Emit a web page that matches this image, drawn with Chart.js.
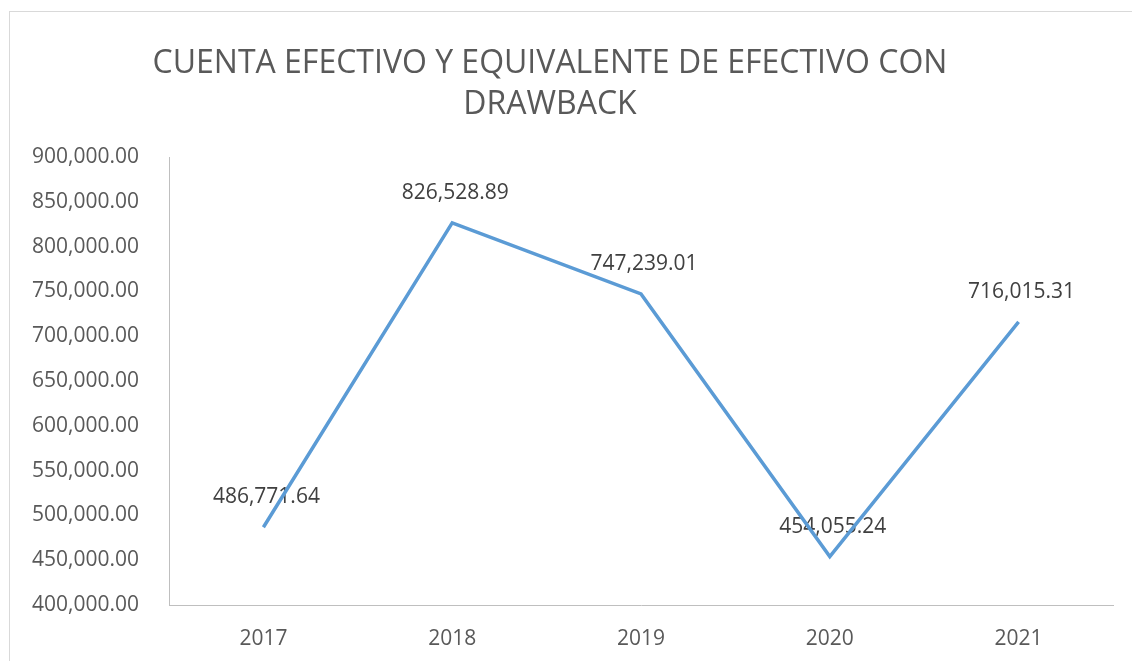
<!DOCTYPE html>
<html>
<head>
<meta charset="utf-8">
<script src="https://cdn.jsdelivr.net/npm/chart.js@4.4.1/dist/chart.umd.min.js"></script>
<style>
  html, body { margin: 0; padding: 0; background: #fff; overflow: hidden; }
  #frame { position: absolute; left: 9px; top: 11px; width: 1200px; height: 700px; border: 1px solid #d9d9d9; }
  #chart { position: absolute; left: 0; top: 0; }
</style>
</head>
<body>
<div id="frame"></div>
<canvas id="chart" width="1132" height="661"></canvas>
<script>
const years = ['2017', '2018', '2019', '2020', '2021'];
const cashValues = [486771.64, 826528.89, 747239.01, 454055.24, 716015.31];
const titleLines = ['CUENTA EFECTIVO Y EQUIVALENTE DE EFECTIVO CON', 'DRAWBACK'];
const yMin = 400000;
const yMax = 900000;
const yStep = 50000;

const textColor = '#595959';
const axisColor = '#bfbfbf';

const fmt = (v) => Number(v).toLocaleString('en-US', { minimumFractionDigits: 2, maximumFractionDigits: 2 });

Chart.defaults.font.family = '"Open Sans", sans-serif';

// value labels above each point (no datalabels plugin available)
const valueLabels = {
    id: 'valueLabels',
    beforeDatasetsDraw(chart) {
        const ctx = chart.ctx;
        const meta = chart.getDatasetMeta(0);
        ctx.save();
        ctx.font = '21px "Open Sans"';
        ctx.fillStyle = '#404040';
        ctx.textAlign = 'center';
        ctx.textBaseline = 'middle';
        meta.data.forEach((pt, i) => {
            ctx.fillText(fmt(cashValues[i]), pt.x + 3, pt.y - 30);
        });
        ctx.restore();
    }
};

// nudge title a bit left, like the original
const titleShift = {
    id: 'titleShift',
    afterLayout(chart) {
        if (chart.titleBlock) chart.titleBlock.right -= 13;
    }
};

new Chart(document.getElementById('chart'), {
    type: 'line',
    data: {
        labels: years,
        datasets: [{
            data: cashValues,
            borderColor: '#5b9bd5',
            borderWidth: 3.5,
            pointRadius: 0,
            tension: 0,
            fill: false
        }]
    },
    options: {
        responsive: false,
        animation: false,
        layout: { padding: { left: 0, right: 19, top: 0, bottom: 0 } },
        plugins: {
            legend: { display: false },
            tooltip: { enabled: false },
            title: {
                display: true,
                text: titleLines,
                color: textColor,
                font: { size: 32, weight: 'normal', lineHeight: '41px' },
                padding: { top: 43, bottom: 32 }
            }
        },
        scales: {
            x: {
                offset: true,
                grid: { display: false },
                border: { color: axisColor, width: 1 },
                ticks: { color: textColor, font: { size: 21 }, padding: 13, maxRotation: 0 },
                afterFit(scale) { scale.height = 56; }
            },
            y: {
                min: yMin,
                max: yMax,
                grid: { display: false },
                border: { color: axisColor, width: 1 },
                ticks: { stepSize: yStep, color: textColor, font: { size: 21 }, padding: 22, callback: (v) => fmt(v) },
                afterFit(scale) { scale.width = 169; }
            }
        }
    },
    plugins: [valueLabels, titleShift]
});
</script>
</body>
</html>
